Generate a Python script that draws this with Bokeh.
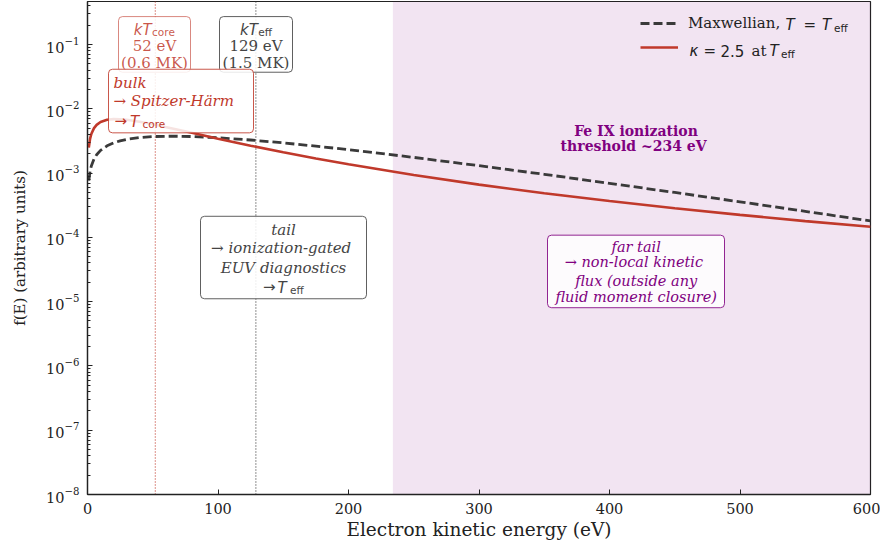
import math
from bokeh.plotting import figure
from bokeh.models import (Span, BoxAnnotation, Label, Legend, LegendItem, Range1d,
                          FixedTicker, LogTickFormatter)
from bokeh.embed import file_html
from bokeh.resources import INLINE

# ---------------- data ----------------
energy_ev = [1, 2, 3, 5, 7, 10, 15, 20, 25, 30, 40, 50, 65, 80, 100, 125, 150,
             175, 200, 250, 300, 350, 400, 450, 500, 550, 600]
maxwellian_f = [7.64e-4, 1.072e-3, 1.303e-3, 1.657e-3, 1.930e-3, 2.254e-3, 2.655e-3,
                2.950e-3, 3.172e-3, 3.343e-3, 3.572e-3, 3.696e-3, 3.751e-3, 3.705e-3,
                3.547e-3, 3.267e-3, 2.949e-3, 2.624e-3, 2.311e-3, 1.753e-3, 1.304e-3,
                9.56e-4, 6.93e-4, 4.99e-4, 3.57e-4, 2.54e-4, 1.80e-4]
kappa_f = [2.49e-3, 3.43e-3, 4.09e-3, 5.01e-3, 5.63e-3, 6.23e-3, 6.75e-3, 6.91e-3,
           6.88e-3, 6.74e-3, 6.29e-3, 5.75e-3, 4.95e-3, 4.23e-3, 3.43e-3, 2.67e-3,
           2.11e-3, 1.69e-3, 1.37e-3, 9.31e-4, 6.61e-4, 4.85e-4, 3.67e-4, 2.84e-4,
           2.24e-4, 1.79e-4, 1.46e-4]
kT_core_ev = 52
kT_eff_ev = 129
threshold_ev = 234
x_ticks = [0, 100, 200, 300, 400, 500, 600]
y_exponents = [-8, -7, -6, -5, -4, -3, -2, -1]

RED = "#c0392b"
GRAY = "#444444"
DARK = "#3a3a3a"
PURPLE = "#800080"

# ---------------- layout ----------------
W, H = 880, 543
FL, FR, FT, FB = 87, 870, 1, 494          # frame edges in picture pixels
DEC = (FB - 44) / 7.0                       # px per decade (1e-1 at y=44)
Y0 = -8
Y1 = Y0 + (FB - FT) / DEC
TEXT_SHIFT = 4                              # baseline correction (px)

# reference-picture pixel -> data
def dx(px):
    return (px - 87) / (870 - 87) * 600.0

def dy(py):
    return 10 ** (-8 + (497 - py) / 64.7)

p = figure(width=W, height=H, y_axis_type="log",
           x_range=Range1d(0, 600), y_range=Range1d(10 ** Y0, 10 ** Y1),
           output_backend="svg", toolbar_location=None,
           min_border_left=FL, min_border_right=W - FR,
           min_border_top=FT, min_border_bottom=H - FB)
p.xgrid.grid_line_color = None
p.ygrid.grid_line_color = None
p.outline_line_color = "#222222"
p.outline_line_width = 1.2
p.background_fill_color = "white"
p.border_fill_color = "white"

# shaded region beyond ionization threshold
p.add_layout(BoxAnnotation(left=threshold_ev, fill_color=PURPLE, fill_alpha=0.105,
                           line_color=None, level="underlay"))
# temperature markers
p.add_layout(Span(location=kT_core_ev, dimension="height", line_color=RED,
                  line_alpha=0.85, line_dash="1 2", line_width=1.3, level="underlay"))
p.add_layout(Span(location=kT_eff_ev, dimension="height", line_color=DARK,
                  line_alpha=0.85, line_dash="1 2", line_width=1.3, level="underlay"))

r_max = p.line(energy_ev, maxwellian_f, line_color=DARK, line_width=2.8, line_dash="9 4")
r_kap = p.line(energy_ev, kappa_f, line_color=RED, line_width=2.6)

# axes
p.xaxis.ticker = FixedTicker(ticks=x_ticks)
p.yaxis.ticker = FixedTicker(ticks=[10.0 ** e for e in y_exponents],
                             minor_ticks=[m * 10.0 ** e for e in range(-8, 0) for m in range(2, 10)])
p.yaxis.formatter = LogTickFormatter()
for ax in (p.xaxis, p.yaxis):
    ax.axis_line_color = "#222222"
    ax.axis_line_width = 1.3
    ax.major_tick_in = 5
    ax.major_tick_out = 0
    ax.minor_tick_in = 3
    ax.minor_tick_out = 0
    ax.major_tick_line_color = "#222222"
    ax.minor_tick_line_color = "#222222"
    ax.major_label_text_font = "DejaVu Serif"
    ax.major_label_text_font_size = "14.5px"
    ax.major_label_text_color = "#222222"
p.xaxis.minor_tick_line_color = None
p.xaxis.major_label_standoff = 8
p.yaxis.major_label_standoff = 8
p.xaxis.axis_label = "Electron kinetic energy (eV)"
p.xaxis.axis_label_text_font = "DejaVu Serif"
p.xaxis.axis_label_text_font_size = "18.5px"
p.xaxis.axis_label_text_font_style = "normal"
p.xaxis.axis_label_text_color = "#222222"
p.xaxis.axis_label_standoff = 2
p.yaxis.axis_label = "f(E) (arbitrary units)"
p.yaxis.axis_label_text_font = "DejaVu Serif"
p.yaxis.axis_label_text_font_size = "15px"
p.yaxis.axis_label_text_font_style = "normal"
p.yaxis.axis_label_text_color = "#222222"
p.yaxis.axis_label_standoff = 14


def lab(text, px, py, font="DejaVu Serif", size=15, style="normal", color="#222222",
        align="left", alpha=1.0, angle=0.0):
    p.add_layout(Label(x=dx(px), y=dy(py - TEXT_SHIFT), text=text, text_font=font,
                       text_font_size=f"{size}px", text_font_style=style,
                       text_color=color, text_align=align, text_baseline="alphabetic",
                       text_alpha=alpha, angle=angle))


def box(l, t, r, b, color, alpha=0.8):
    p.add_layout(BoxAnnotation(left=dx(l), right=dx(r), top=dy(t), bottom=dy(b),
                               fill_color="white", fill_alpha=0.86, line_color=color,
                               line_alpha=alpha, line_width=1, border_radius=4))


SANS = "DejaVu Sans"
SERIF = "DejaVu Serif"

# kT_core box
box(118, 16, 190, 72, RED, 0.6)
lab("kT", 133.3, 33.3, font=SANS, size=15, style="italic", color=RED, alpha=0.85)
lab("core", 151.6, 35.3, font=SANS, size=10.5, color=RED, alpha=0.85)
lab("52 eV", 154, 50, size=15, color=RED, align="center", alpha=0.85)
lab("(0.6 MK)", 154, 66.5, size=15, color=RED, align="center", alpha=0.85)

# kT_eff box
box(219, 16, 292, 72, GRAY, 0.85)
lab("kT", 239.6, 33.3, font=SANS, size=15, style="italic", color=GRAY)
lab("eff", 257.8, 35.3, font=SANS, size=10.5, color=GRAY)
lab("129 eV", 255.5, 50, size=15, color=GRAY, align="center")
lab("(1.5 MK)", 255.5, 66.5, size=15, color=GRAY, align="center")

# bulk box
box(108, 69, 253, 133, RED, 0.85)
lab("bulk", 113, 87.3, size=15, style="italic", color=RED)
lab("→  Spitzer-Härm", 113, 105.3, size=15, style="italic", color=RED)
lab("→", 114, 125.5, font=SANS, size=15, color=RED)
lab("T", 129.5, 126, font=SANS, size=15, style="italic", color=RED)
lab("core", 142, 128, font=SANS, size=10.5, color=RED)

# tail box
box(200, 217, 366, 300, GRAY, 0.85)
lab("tail", 283, 235, size=15, style="italic", color=GRAY, align="center")
lab("→  ionization-gated", 283, 253.3, size=15, style="italic", color=GRAY, align="center")
lab("EUV diagnostics", 283, 273.3, size=15, style="italic", color=GRAY, align="center")
lab("→", 262.5, 292, font=SANS, size=15, color=GRAY)
lab("T", 277, 292.7, font=SANS, size=15, style="italic", color=GRAY)
lab("eff", 289.5, 295, font=SANS, size=10.5, color=GRAY)

# far tail box
box(547, 236, 724, 309, PURPLE, 0.85)
lab("far tail", 635.7, 251.7, size=14.5, style="italic", color=PURPLE, align="center")
lab("→  non-local kinetic", 635.7, 267.3, size=14.5, style="italic", color=PURPLE, align="center")
lab("flux (outside any", 635.7, 285.7, size=14.5, style="italic", color=PURPLE, align="center")
lab("fluid moment closure)", 635.7, 302.3, size=14.5, style="italic", color=PURPLE, align="center")

# threshold label
lab("Fe IX ionization", 635.5, 135, size=14, style="bold", color=PURPLE, align="center")
lab("threshold  ~234 eV", 635.5, 150.7, size=14, style="bold", color=PURPLE, align="center")

# legend
legend = Legend(items=[LegendItem(label="Maxwellian,", renderers=[r_max]),
                       LegendItem(label=" ", renderers=[r_kap])],
                location=(551, FB - 59), orientation="vertical",
                background_fill_alpha=0.0, border_line_alpha=0.0,
                glyph_width=38, glyph_height=20, label_height=20, label_standoff=10,
                spacing=4, padding=2, margin=0,
                label_text_font=SERIF, label_text_font_size="15px",
                label_text_color="#222222")
p.add_layout(legend)
lab("T", 785, 28.3, font=SANS, size=15, style="italic")
lab("=", 803, 28.3, font=SANS, size=15)
lab("T", 821.5, 28.3, font=SANS, size=15, style="italic")
lab("eff", 833.5, 31.3, font=SANS, size=10.5)
lab("κ", 689, 54.3, font=SANS, size=15, style="italic")
lab("=", 703, 54.3, font=SANS, size=15)
lab("2.5", 720, 54.3, font=SANS, size=15)
lab("at", 751, 54.3, font=SERIF, size=15)
lab("T", 769, 54.3, font=SANS, size=15, style="italic")
lab("eff", 780.5, 57.3, font=SANS, size=10.5)

open("out.html", "w").write(file_html(p, INLINE))
